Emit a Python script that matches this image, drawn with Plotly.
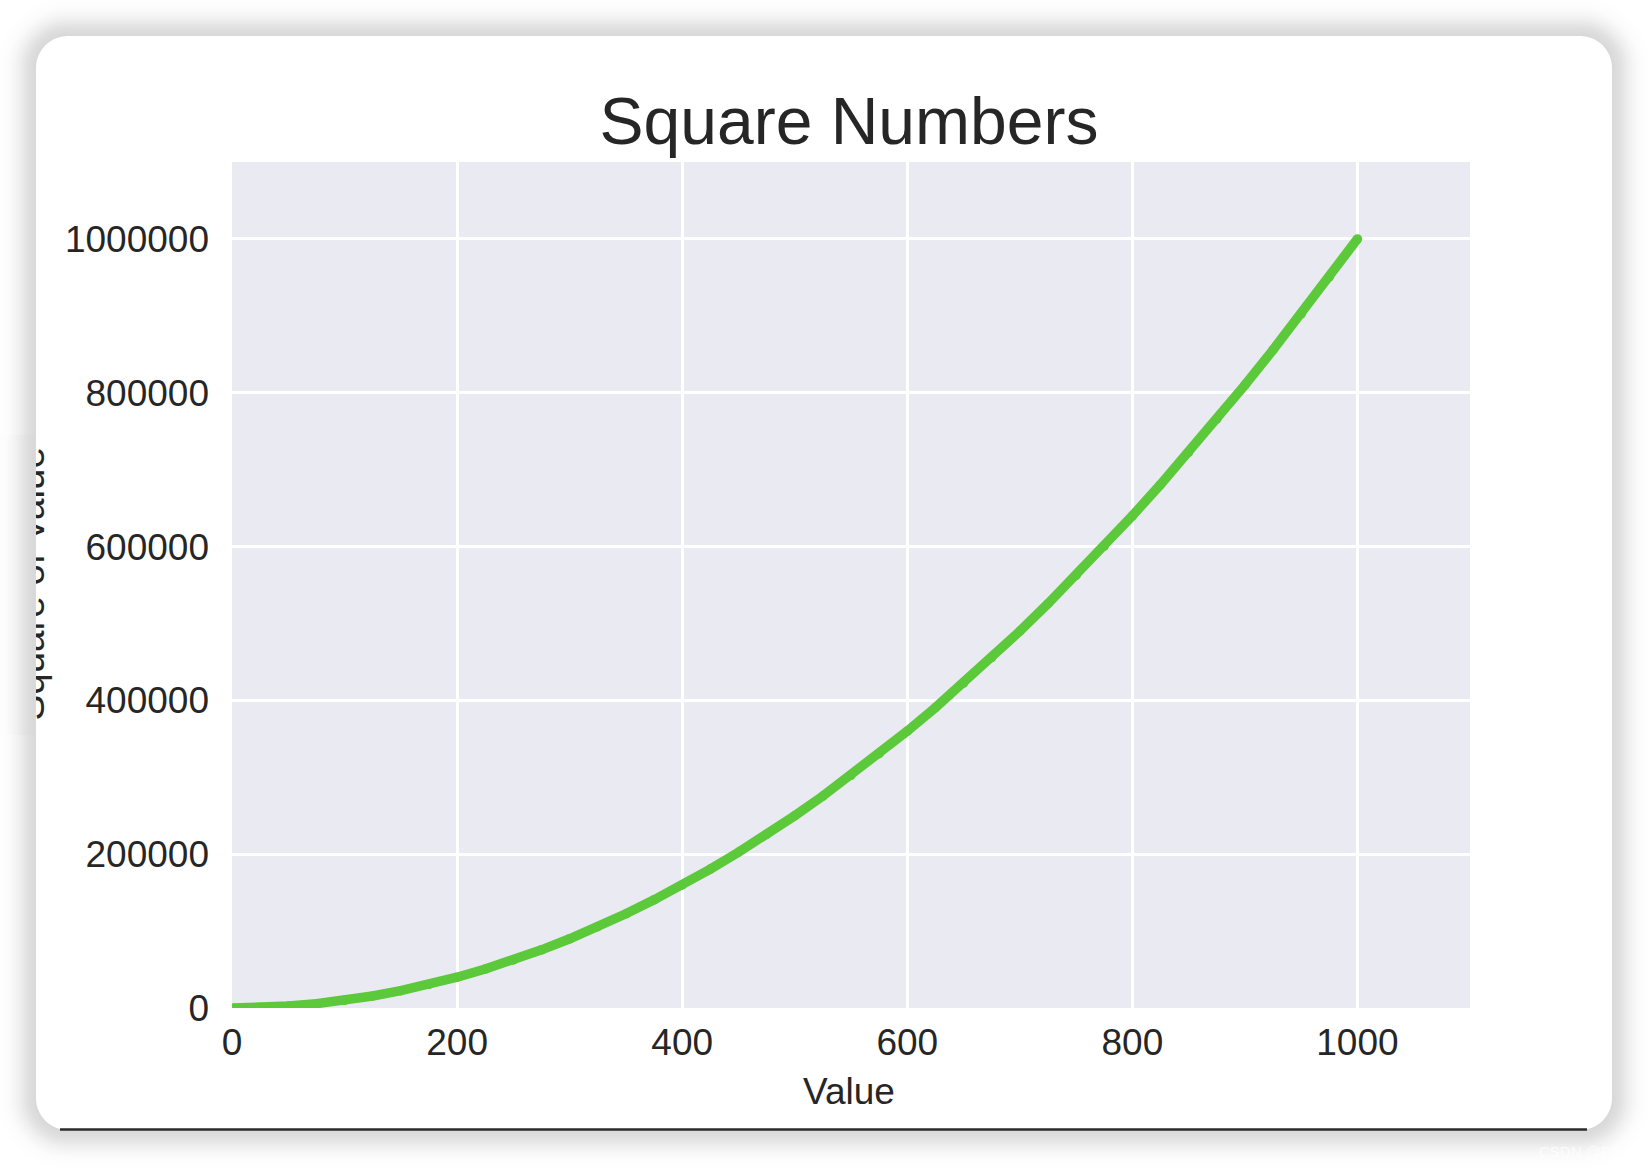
import math
import plotly.graph_objects as go

# ---------------- data ----------------
values = [1, 25, 50, 75, 100, 125, 150, 175, 200, 225, 250, 275, 300, 325, 350,
          375, 400, 425, 450, 475, 500, 525, 550, 575, 600, 625, 650, 675, 700,
          725, 750, 775, 800, 825, 850, 875, 900, 925, 950, 975, 1000]
squares = [1, 625, 2500, 5625, 10000, 15625, 22500, 30625, 40000, 50625, 62500,
           75625, 90000, 105625, 122500, 140625, 160000, 180625, 202500, 225625,
           250000, 275625, 302500, 330625, 360000, 390625, 422500, 455625, 490000,
           525625, 562500, 600625, 640000, 680625, 722500, 765625, 810000, 855625,
           902500, 950625, 1000000]
x_ticks = [0, 200, 400, 600, 800, 1000]
y_ticks = [0, 200000, 400000, 600000, 800000, 1000000]
y_tick_text = ["0", "200000", "400000", "600000", "800000", "1000000"]

TITLE = "Square Numbers"
X_LABEL = "Value"
Y_LABEL = "Square of Value"

# ---------------- geometry ----------------
W, H = 1648, 1168
def fx(px):
    return px / W
def fy(py):
    return 1 - py / H

CARD = (36, 36, 1612, 1130)  # left, top, right, bottom
R = 32
PLOT = (232, 162, 1470, 1008)
TXT = "#262626"
FONT = "Arial, Liberation Sans, sans-serif"
GREEN = "#5CC93B"

def rounded_path(x0, y0, x1, y1, r):
    k = 0.5523
    def P(a, b):
        return f"{fx(a):.6f},{fy(b):.6f}"
    p = f"M {P(x0 + r, y0)} L {P(x1 - r, y0)} "
    p += f"C {P(x1 - r + k * r, y0)} {P(x1, y0 + r - k * r)} {P(x1, y0 + r)} "
    p += f"L {P(x1, y1 - r)} "
    p += f"C {P(x1, y1 - r + k * r)} {P(x1 - r + k * r, y1)} {P(x1 - r, y1)} "
    p += f"L {P(x0 + r, y1)} "
    p += f"C {P(x0 + r - k * r, y1)} {P(x0, y1 - r + k * r)} {P(x0, y1 - r)} "
    p += f"L {P(x0, y0 + r)} "
    p += f"C {P(x0, y0 + r - k * r)} {P(x0 + r - k * r, y0)} {P(x0 + r, y0)} Z"
    return p

def shade(d):
    g = int(round(255 - 38 * math.exp(-(d / 19.0) ** 2)))
    return f"rgb({g},{g},{g})"

shapes = []
STEP = 2
for d in range(46, -1, -STEP):
    shapes.append(dict(type="path", xref="paper", yref="paper", layer="below",
                       path=rounded_path(CARD[0] - d, CARD[1] - d, CARD[2] + d, CARD[3] + d, R + d),
                       fillcolor=shade(d), line=dict(width=0)))
shapes.append(dict(type="path", xref="paper", yref="paper", layer="below",
                   path=rounded_path(*CARD, R), fillcolor="white", line=dict(width=0)))
shapes.append(dict(type="rect", xref="paper", yref="paper", layer="below",
                   x0=fx(PLOT[0]), x1=fx(PLOT[2]), y0=fy(PLOT[3]), y1=fy(PLOT[1]),
                   fillcolor="#EAEAF2", line=dict(width=0)))
# left strip cover (hides the part of the y label outside the card)
for d in range(0, 40, STEP):
    shapes.append(dict(type="rect", xref="paper", yref="paper", layer="above",
                       x0=fx(CARD[0] - d - STEP), x1=fx(CARD[0] - d),
                       y0=fy(735), y1=fy(435),
                       fillcolor=shade(d), line=dict(width=0)))
shapes.append(dict(type="line", xref="paper", yref="paper", layer="above",
                   x0=fx(60), x1=fx(1587), y0=fy(1129.5), y1=fy(1129.5),
                   line=dict(color="#2b2b2b", width=2.5)))

fig = go.Figure()
fig.add_trace(go.Scatter(x=values, y=squares, mode="lines+markers",
                         line=dict(color=GREEN, width=9.5),
                         marker=dict(color=GREEN, size=9.5, line=dict(width=0)),
                         cliponaxis=True, hoverinfo="skip", showlegend=False))
fig.add_trace(go.Scatter(x=[values[0]], y=[squares[0]], yaxis="y2", mode="markers",
                         marker=dict(opacity=0), hoverinfo="skip", showlegend=False))

fig.update_layout(
    width=W, height=H, autosize=False,
    margin=dict(l=0, r=0, t=0, b=0, autoexpand=False),
    paper_bgcolor="white", plot_bgcolor="rgba(0,0,0,0)",
    font=dict(family=FONT, color=TXT),
    title=dict(text=TITLE, x=fx(849), xanchor="center", y=fy(121), yanchor="middle",
               font=dict(size=66, color=TXT, family=FONT)),
    xaxis=dict(domain=[fx(PLOT[0]), fx(PLOT[2])], range=[0, 1100], automargin=False,
               tickvals=x_ticks, ticks="", showline=False, zeroline=False,
               gridcolor="white", gridwidth=2.6,
               tickfont=dict(size=37, color=TXT, family=FONT), ticklabelstandoff=9),
    yaxis=dict(domain=[fy(PLOT[3]), fy(PLOT[1])], range=[0, 1100000], automargin=False,
               tickvals=y_ticks, ticktext=y_tick_text, ticks="", showline=False,
               zeroline=False, gridcolor="white", gridwidth=2.6,
               tickfont=dict(size=37, color=TXT, family=FONT), ticklabelstandoff=22),
    yaxis2=dict(overlaying="y", anchor="free", position=fx(52), side="left",
                automargin=False,
                range=[0, 1100000], tickvals=[544000], ticktext=[Y_LABEL],
                tickangle=-90, ticks="", showgrid=False, zeroline=False, showline=False,
                tickfont=dict(size=38.5, color=TXT, family=FONT)),
    shapes=shapes,
    annotations=[
        dict(text=X_LABEL, xref="paper", yref="paper", x=fx(849), y=fy(1091),
             xanchor="center", yanchor="middle", showarrow=False,
             font=dict(size=37, color=TXT, family=FONT)),
        dict(text="CSDN @DB", xref="paper", yref="paper", x=fx(1537), y=fy(1151),
             xanchor="left", yanchor="middle", showarrow=False,
             font=dict(size=15, color="rgba(255,255,255,0.75)", family=FONT)),
    ],
)

fig.write_html("out.html", config={"displayModeBar": False},
               post_script="document.body.style.margin='0';document.body.style.overflow='hidden';")
